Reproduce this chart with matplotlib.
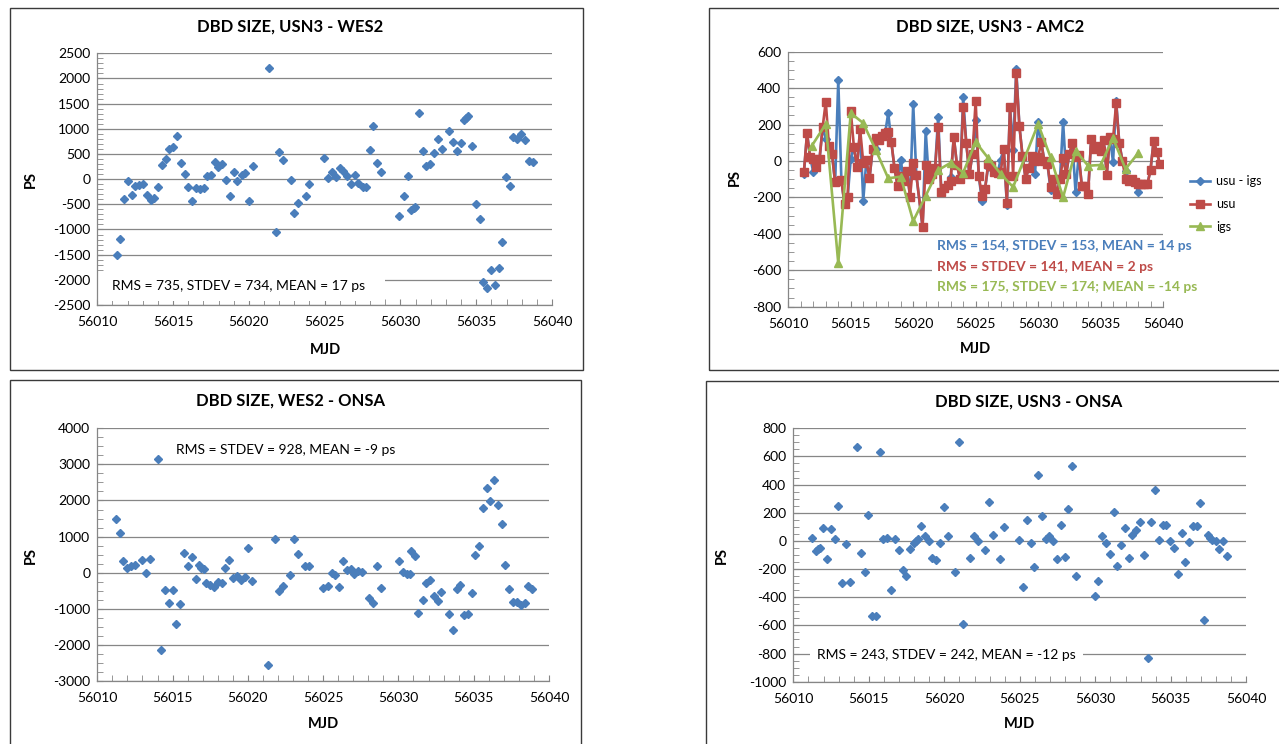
import matplotlib
matplotlib.use('Agg')
import matplotlib.pyplot as plt
from matplotlib.patches import Rectangle
from matplotlib.ticker import MultipleLocator

plt.rcParams['font.family'] = ['Lato', 'DejaVu Sans']
plt.rcParams['axes.unicode_minus'] = False

W, H = 1279, 744

BLUE = '#4a7ebb'
RED = '#be4b48'
GREEN = '#98b954'
GRID = '#868686'

mjd_ticks = [56010, 56015, 56020, 56025, 56030, 56035, 56040]

# ---- USN3 - WES2 ----
wes2_mjd = [56011.28, 56011.52, 56011.76, 56012.00, 56012.27, 56012.51, 56012.75, 56012.99, 56013.26, 56013.52,
            56013.76, 56014.02, 56014.24, 56014.51, 56014.75, 56014.99, 56015.25, 56015.52, 56015.76, 56016.00,
            56016.26, 56016.50, 56016.77, 56017.01, 56017.23, 56017.50, 56017.74, 56017.98, 56018.24, 56018.48,
            56018.75, 56019.01, 56019.25, 56019.52, 56019.76, 56020.00, 56020.24, 56021.30, 56021.76, 56021.98,
            56022.24, 56022.75, 56022.99, 56023.25, 56023.74, 56024.00, 56024.99, 56025.23, 56025.49, 56025.75,
            56026.00, 56026.24, 56026.49, 56026.72, 56026.99, 56027.23, 56027.50, 56027.73, 56027.98, 56028.22,
            56028.46, 56028.72, 56029.89, 56030.22, 56030.48, 56030.72, 56030.88, 56030.99, 56031.23, 56031.47,
            56031.71, 56031.98, 56032.22, 56032.48, 56032.72, 56033.20, 56033.47, 56033.71, 56033.97, 56034.22,
            56034.35, 56034.48, 56034.72, 56034.97, 56035.23, 56035.47, 56035.71, 56035.98, 56036.22, 56036.48,
            56036.72, 56036.96, 56037.21, 56037.45, 56037.69, 56037.98, 56038.21, 56038.46, 56038.73]
wes2_ps = [-1504, -1193, -399, -42, -313, -128, -109, -95, -307, -413,
           -373, -148, 282, 401, 599, 645, 863, 315, 103, -161,
           -426, -181, -194, -175, 63, 90, 335, 242, 295, -16,
           -327, 137, -30, 83, 117, -439, 256, 2206, -1054, 533,
           375, -22, -664, -466, -333, -95, 421, 30, 143, 50,
           216, 169, 58, -95, 83, -69, -155, -148, 573, 1056,
           327, 149, -724, -327, 58, -611, -578, -552, 1307, 565,
           262, 295, 514, 797, 605, 956, 738, 565, 712, 1168,
           1208, 1248, 659, -498, -790, -2040, -2159, -1808, -2093, -1768,
           -1252, 44, -129, 837, 804, 891, 772, 355, 335]
wes2_yticks = [-2500, -2000, -1500, -1000, -500, 0, 500, 1000, 1500, 2000, 2500]

# ---- USN3 - AMC2 ----
amc2_mjd = [56011.25, 56011.50, 56011.75, 56012.00, 56012.25, 56012.50, 56012.75, 56013.00, 56013.25, 56013.50,
            56013.75, 56014.00, 56014.25, 56014.50, 56014.75, 56015.00, 56015.25, 56015.50, 56015.75, 56016.00,
            56016.25, 56016.50, 56016.75, 56017.00, 56017.25, 56017.50, 56017.75, 56018.00, 56018.25, 56018.50,
            56018.75, 56019.00, 56019.25, 56019.50, 56019.75, 56020.00, 56020.25, 56020.75, 56021.00, 56021.25,
            56021.50, 56021.75, 56022.00, 56022.25, 56022.50, 56022.75, 56023.00, 56023.25, 56023.50, 56023.75,
            56024.00, 56024.25, 56024.50, 56024.75, 56025.00, 56025.25, 56025.50, 56025.75, 56026.00, 56026.25,
            56026.50, 56026.75, 56027.00, 56027.25, 56027.50, 56027.75, 56028.00, 56028.25, 56028.50, 56028.75,
            56029.00, 56029.25, 56029.50, 56029.75, 56030.00, 56030.25, 56030.50, 56030.75, 56031.00, 56031.25,
            56031.50, 56031.75, 56032.00, 56032.25, 56032.50, 56032.75, 56033.00, 56033.25, 56033.50, 56033.75,
            56034.00, 56034.25, 56034.50, 56034.75, 56035.00, 56035.25, 56035.50, 56035.75, 56036.00, 56036.25,
            56036.50, 56036.75, 56037.00, 56037.25, 56037.50, 56037.75, 56038.00, 56038.25, 56038.50, 56038.75,
            56039.00, 56039.25, 56039.50, 56039.75]
usu_ps = [-59, 152, 20, 11, -35, 11, 185, 326, 84, 38,
          -118, -110, -105, -237, -200, 276, 78, -35, 175, -10,
          5, -96, 65, 126, 115, 139, 152, 157, 106, -39,
          -136, -81, -108, -54, -196, -13, -76, -361, -21, -101,
          -72, -40, 188, -173, -150, -130, -108, 133, -20, -99,
          295, 97, -72, 40, 331, -81, -191, -154, -17, -26,
          -60, -68, -63, 65, -228, 298, -81, 481, 194, 29,
          -99, -40, 29, 1, 20, 102, 1, -17, -141, -99,
          -182, -100, 14, -72, 40, 97, 20, 34, -136, -136,
          -182, 120, 65, 84, 56, 115, -75, 133, 120, 317,
          97, 1, -99, -108, -99, -118, -127, -127, -127, -127,
          -50, 111, 51, -17]
usu_igs_ps = [-72, 152, 20, -60, -35, 11, 185, 123, 84, 38,
              -118, 445, -105, -237, -200, 13, 78, -35, 175, -218,
              5, -96, 65, 65, 115, 139, 152, 262, 106, -39,
              -136, 5, -108, -54, -196, 313, -76, -361, 166, -101,
              -72, -40, 243, -173, -150, -130, -90, 133, -20, -99,
              350, 97, -72, 40, 227, -81, -218, -154, -33, -26,
              -60, -68, 8, 65, -240, 298, 62, 505, 194, 29,
              -99, -40, 29, -72, 212, 102, 1, -17, -161, -99,
              -182, -100, 214, -72, 40, 97, -173, 34, -136, -136,
              -175, 120, 65, 84, 78, 115, -75, 133, -6, 331,
              97, 1, -55, -108, -99, -118, -169, -127, -127, -127,
              -50, 111, 51, -17]
igs_mjd = [56011.9, 56013.0, 56014.0, 56015.0, 56016.0, 56017.0, 56018.0, 56019.0, 56020.0, 56021.0,
           56022.0, 56023.0, 56024.0, 56025.0, 56026.0, 56027.0, 56028.0, 56030.0, 56031.0, 56032.0,
           56033.0, 56034.0, 56035.0, 56036.0, 56037.0, 56038.0]
igs_ps = [85, 203, -560, 263, 208, 61, -95, -86, -330, -191,
          -50, -10, -64, 104, 16, -71, -143, 203, 20, -200,
          57, -26, -22, 126, -44, 42]
amc2_yticks = [-800, -600, -400, -200, 0, 200, 400, 600]

# ---- WES2 - ONSA ----
onsa_w_mjd = [56011.25, 56011.49, 56011.74, 56012.00, 56012.25, 56012.51, 56012.98, 56013.25, 56013.51, 56014.00,
              56014.25, 56014.49, 56014.76, 56015.02, 56015.25, 56015.51, 56015.76, 56016.00, 56016.27, 56016.54,
              56016.76, 56016.91, 56017.07, 56017.25, 56017.51, 56017.78, 56018.02, 56018.27, 56018.51, 56018.78,
              56019.02, 56019.29, 56019.54, 56019.78, 56020.02, 56020.27, 56021.31, 56021.80, 56022.05, 56022.31,
              56022.80, 56023.05, 56023.31, 56023.78, 56024.07, 56025.02, 56025.29, 56025.56, 56025.80, 56026.07,
              56026.34, 56026.58, 56026.85, 56027.07, 56027.34, 56027.58, 56028.07, 56028.31, 56028.56, 56028.82,
              56030.07, 56030.31, 56030.55, 56030.80, 56030.84, 56031.09, 56031.33, 56031.60, 56031.84, 56032.09,
              56032.35, 56032.60, 56032.84, 56033.35, 56033.60, 56033.87, 56034.11, 56034.35, 56034.62, 56034.87,
              56035.11, 56035.35, 56035.60, 56035.87, 56036.11, 56036.35, 56036.60, 56036.87, 56037.11, 56037.35,
              56037.62, 56037.87, 56038.13, 56038.38, 56038.62, 56038.89]
onsa_w_ps = [1495, 1107, 323, 129, 175, 203, 341, -10, 369, 3148,
             -2134, -490, -832, -481, -1413, -869, 535, 175, 443, -185,
             203, 138, 92, -278, -333, -398, -259, -296, 120, 360,
             -157, -93, -213, -121, 673, -241, -2568, 923, -518, -379,
             -56, 941, 507, 193, 184, -425, -370, -1, -74, -407,
             313, 73, 92, -47, 46, 27, -693, -841, 193, -416,
             323, 18, -28, -28, 600, 461, -1109, -758, -296, -213,
             -647, -786, -536, -1155, -1589, -444, -351, -1173, -1136, -555,
             498, 729, 1791, 2345, 1975, 2557, 1865, 1348, 212, -453,
             -813, -813, -906, -841, -370, -462]
onsa_w_yticks = [-3000, -2000, -1000, 0, 1000, 2000, 3000, 4000]

# ---- USN3 - ONSA ----
onsa_u_mjd = [56011.22, 56011.48, 56011.64, 56011.77, 56011.99, 56012.23, 56012.47, 56012.74, 56012.98, 56013.23,
              56013.47, 56013.73, 56014.24, 56014.48, 56014.75, 56014.97, 56015.23, 56015.50, 56015.74, 56015.96,
              56016.23, 56016.49, 56016.74, 56016.98, 56017.24, 56017.49, 56017.73, 56017.97, 56018.10, 56018.24,
              56018.48, 56018.74, 56018.99, 56019.21, 56019.47, 56019.72, 56019.96, 56020.22, 56020.73, 56020.97,
              56021.22, 56021.72, 56021.97, 56022.21, 56022.72, 56022.98, 56023.23, 56023.71, 56023.98, 56024.97,
              56025.24, 56025.48, 56025.74, 56025.96, 56026.23, 56026.47, 56026.71, 56026.96, 56027.22, 56027.46,
              56027.71, 56027.97, 56028.22, 56028.46, 56028.72, 56029.96, 56030.20, 56030.47, 56030.71, 56030.97,
              56031.22, 56031.46, 56031.70, 56031.97, 56032.21, 56032.45, 56032.70, 56032.96, 56033.20, 56033.47,
              56033.71, 56033.95, 56034.20, 56034.46, 56034.71, 56034.95, 56035.21, 56035.46, 56035.72, 56035.96,
              56036.21, 56036.45, 56036.71, 56036.96, 56037.20, 56037.44, 56037.62, 56037.75, 56037.97, 56038.19,
              56038.46, 56038.70]
onsa_u_ps = [19, -71, -59, -47, 94, -130, 83, 16, 248, -300,
             -24, -291, 664, -85, -218, 182, -532, -532, 633, 14,
             21, -348, 14, -66, -208, -248, -55, -17, 2, 16,
             106, 33, -2, -123, -135, -12, 243, 33, -218, 702,
             -589, -118, 35, -2, -64, 279, 42, -130, 97, 7,
             -326, 149, -12, -182, 468, 175, 12, 38, 2, -128,
             116, -116, 229, 529, -251, -390, -284, 33, -17, -90,
             203, -175, -31, 90, -123, 42, 81, 134, -99, -830,
             134, 359, 7, 111, 111, -2, -52, -237, 59, -151,
             -7, 109, 109, 272, -560, 45, 21, 7, 0, -59,
             0, -107]
onsa_u_yticks = [-1000, -800, -600, -400, -200, 0, 200, 400, 600, 800]


fig = plt.figure(figsize=(W / 100, H / 100), dpi=100)
fig.patch.set_facecolor('white')


def fig_rect(x0, y0, x1, y1):
    # pixel box measured from the top-left corner -> figure fractions
    return [x0 / W, 1 - y1 / H, (x1 - x0) / W, (y1 - y0) / H]


def chart_frame(x0, y0, x1, y1):
    l, b, w, h = fig_rect(x0, y0, x1, y1)
    fig.add_artist(Rectangle((l, b), w, h, transform=fig.transFigure,
                             fill=False, ec='#3a3a3a', lw=1.0))


def white_box(ax, x0, y0, x1, y1):
    l, b, w, h = fig_rect(x0, y0, x1, y1)
    ax.add_patch(Rectangle((l, b), w, h, transform=fig.transFigure,
                           fc='white', ec='none', zorder=1, clip_on=False))


def make_panel(px, yticks, yminor):
    ax = fig.add_axes(fig_rect(*px))
    ax.set_xlim(mjd_ticks[0], mjd_ticks[-1])
    ax.set_ylim(yticks[0], yticks[-1])
    ax.set_xticks(mjd_ticks)
    ax.set_xticklabels([str(t) for t in mjd_ticks])
    ax.set_yticks(yticks)
    ax.set_yticklabels([str(t) for t in yticks])
    ax.xaxis.set_minor_locator(MultipleLocator(1))
    ax.yaxis.set_minor_locator(MultipleLocator(yminor))
    for side in ('top', 'right'):
        ax.spines[side].set_visible(False)
    for side in ('left', 'bottom'):
        ax.spines[side].set_color(GRID)
        ax.spines[side].set_linewidth(0.9)
    ax.tick_params(axis='x', which='both', direction='in', length=4, color=GRID,
                   labelsize=10, pad=8)
    ax.tick_params(axis='y', which='both', direction='in', length=4, color=GRID,
                   labelsize=10, pad=5)
    ax.yaxis.grid(True, color=GRID, lw=0.9)
    ax.set_axisbelow(True)
    return ax


def scatter(ax, x, y):
    ax.plot(x, y, ls='none', marker='D', ms=3.9, color=BLUE, zorder=3)


title_kw = dict(fontsize=12, fontweight='bold', ha='center', va='center', color='black')
label_kw = dict(fontsize=10.5, fontweight='bold', ha='center', va='center', color='black')
note_kw = dict(fontsize=10, va='center', color='black')

# chart frames
chart_frame(10, 8, 583, 370)
chart_frame(709, 8, 1290, 370)
chart_frame(10, 380, 581, 760)
chart_frame(706, 381, 1290, 760)

# top-left: USN3 - WES2
ax1 = make_panel((97.3, 53.3, 552, 305), wes2_yticks, 100)
scatter(ax1, wes2_mjd, wes2_ps)
white_box(ax1, 98, 271, 385, 301)
fig.text(112 / W, 1 - 286 / H, 'RMS = 735, STDEV = 734, MEAN = 17 ps', **note_kw)
fig.text(290 / W, 1 - 27 / H, 'DBD SIZE, USN3 - WES2', **title_kw)
fig.text(31 / W, 1 - 180 / H, 'PS', rotation=90, **label_kw)
fig.text(325 / W, 1 - 350 / H, 'MJD', **label_kw)

# top-right: USN3 - AMC2
ax2 = make_panel((788.3, 51.7, 1163, 306.7), amc2_yticks, 50)
ax2.plot(amc2_mjd, usu_igs_ps, color=BLUE, lw=1.9, marker='D', ms=3.6, zorder=3, label='usu - igs')
ax2.plot(amc2_mjd, usu_ps, color=RED, lw=1.9, marker='s', ms=5.2, zorder=4, label='usu')
ax2.plot(igs_mjd, igs_ps, color=GREEN, lw=1.9, marker='^', ms=5.5, zorder=5, label='igs')
white_box(ax2, 932, 238, 1163, 299)
notes = [('RMS = 154, STDEV = 153, MEAN = 14 ps', BLUE, 246),
         ('RMS = STDEV = 141, MEAN = 2 ps', RED, 267),
         ('RMS = 175, STDEV = 174; MEAN = -14 ps', GREEN, 287)]
for txt, col, yp in notes:
    fig.text(937 / W, 1 - yp / H, txt, fontsize=10, fontweight='bold', color=col, va='center')
ax2.legend(loc='center left', bbox_to_anchor=(1190 / W, 1 - 204 / H), bbox_transform=fig.transFigure,
           frameon=False, fontsize=9, handlelength=1.6, handletextpad=0.5, labelspacing=0.85,
           borderpad=0, borderaxespad=0)
fig.text(990 / W, 1 - 27 / H, 'DBD SIZE, USN3 - AMC2', **title_kw)
fig.text(735 / W, 1 - 178 / H, 'PS', rotation=90, **label_kw)
fig.text(975 / W, 1 - 349 / H, 'MJD', **label_kw)

# bottom-left: WES2 - ONSA
ax3 = make_panel((97.3, 428.3, 549, 681), onsa_w_yticks, 250)
scatter(ax3, onsa_w_mjd, onsa_w_ps)
fig.text(286 / W, 1 - 450 / H, 'RMS = STDEV = 928, MEAN = -9 ps', ha='center', **note_kw)
fig.text(290 / W, 1 - 401 / H, 'DBD SIZE, WES2 - ONSA', **title_kw)
fig.text(31 / W, 1 - 556 / H, 'PS', rotation=90, **label_kw)
fig.text(323 / W, 1 - 724 / H, 'MJD', **label_kw)

# bottom-right: USN3 - ONSA
ax4 = make_panel((793.3, 428.3, 1246.3, 681.7), onsa_u_yticks, 50)
scatter(ax4, onsa_u_mjd, onsa_u_ps)
white_box(ax4, 810, 640, 1083, 668)
fig.text(817 / W, 1 - 655 / H, 'RMS = 243, STDEV = 242, MEAN = -12 ps', **note_kw)
fig.text(1029 / W, 1 - 402 / H, 'DBD SIZE, USN3 - ONSA', **title_kw)
fig.text(722 / W, 1 - 556 / H, 'PS', rotation=90, **label_kw)
fig.text(1019 / W, 1 - 724 / H, 'MJD', **label_kw)

fig.savefig('out.png', dpi=100)
